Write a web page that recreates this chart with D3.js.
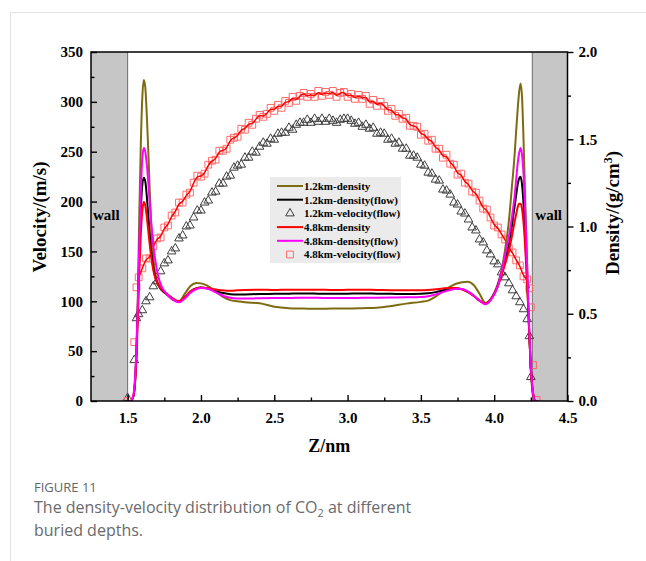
<!DOCTYPE html>
<html>
<head>
<meta charset="utf-8">
<script src="https://cdn.jsdelivr.net/npm/d3@7"></script>
<style>
  body { margin: 0; background: #fff; }
  svg { display: block; }
  .serif { font-family: "Liberation Serif", "Times New Roman", serif; font-weight: bold; }
</style>
</head>
<body>
<figure style="margin:0"></figure>
<script>
// Z positions (nm) of the density profiles
const densZ = [
  1.50, 1.52, 1.54, 1.55, 1.56, 1.57, 1.58, 1.59, 1.60, 1.61,
  1.62, 1.63, 1.64, 1.65, 1.66, 1.68, 1.70, 1.72, 1.75, 1.78,
  1.81, 1.85, 1.89, 1.93, 1.97, 2.00, 2.04, 2.08, 2.12, 2.16,
  2.20, 2.25, 2.30, 2.40, 2.50, 2.60, 2.70, 2.80, 2.90, 3.00,
  3.10, 3.20, 3.30, 3.40, 3.50, 3.55, 3.60, 3.65, 3.70, 3.74,
  3.78, 3.82, 3.86, 3.90, 3.94, 3.98, 4.02, 4.05, 4.08, 4.10,
  4.12, 4.14, 4.15, 4.16, 4.17, 4.18, 4.19, 4.20, 4.21, 4.22,
  4.23, 4.24, 4.25, 4.26, 4.27, 4.28, 4.30
]

const den1200 = [
  0, 0, 0.03, 0.10, 0.28, 0.62, 1.10, 1.48, 1.74, 1.84,
  1.80, 1.65, 1.45, 1.22, 1.02, 0.78, 0.69, 0.655, 0.625, 0.60,
  0.58, 0.57, 0.615, 0.66, 0.676, 0.674, 0.662, 0.64, 0.615, 0.592,
  0.578, 0.572, 0.566, 0.56, 0.54, 0.532, 0.530, 0.528, 0.530, 0.530,
  0.532, 0.535, 0.545, 0.558, 0.568, 0.575, 0.598, 0.628, 0.655, 0.672,
  0.681, 0.684, 0.665, 0.615, 0.562, 0.59, 0.66, 0.75, 0.90, 1.03,
  1.22, 1.42, 1.55, 1.67, 1.77, 1.82, 1.74, 1.50, 1.20, 0.90,
  0.62, 0.36, 0.17, 0.06, 0.02, 0, 0
]

const flow1200 = [
  0, 0, 0.03, 0.11, 0.28, 0.55, 0.86, 1.10, 1.24, 1.28,
  1.26, 1.18, 1.07, 0.96, 0.86, 0.74, 0.68, 0.648, 0.622, 0.603,
  0.585, 0.570, 0.594, 0.628, 0.646, 0.650, 0.646, 0.636, 0.625, 0.617,
  0.612, 0.610, 0.611, 0.613, 0.614, 0.615, 0.616, 0.615, 0.614, 0.615,
  0.616, 0.615, 0.614, 0.613, 0.614, 0.617, 0.624, 0.634, 0.642, 0.645,
  0.640, 0.626, 0.603, 0.575, 0.557, 0.585, 0.650, 0.73, 0.83, 0.90,
  1.00, 1.12, 1.18, 1.24, 1.275, 1.285, 1.24, 1.13, 0.97, 0.79,
  0.58, 0.37, 0.19, 0.08, 0.02, 0, 0
]

const den4800 = [
  0, 0, 0.03, 0.10, 0.25, 0.48, 0.75, 0.96, 1.09, 1.14,
  1.12, 1.06, 0.98, 0.90, 0.83, 0.73, 0.68, 0.652, 0.626, 0.606,
  0.587, 0.572, 0.595, 0.628, 0.645, 0.650, 0.648, 0.642, 0.636, 0.633,
  0.632, 0.634, 0.636, 0.638, 0.636, 0.638, 0.637, 0.638, 0.636, 0.637,
  0.638, 0.636, 0.635, 0.634, 0.635, 0.636, 0.640, 0.645, 0.648, 0.648,
  0.640, 0.625, 0.602, 0.575, 0.558, 0.585, 0.648, 0.72, 0.80, 0.86,
  0.94, 1.03, 1.07, 1.11, 1.13, 1.13, 1.10, 1.02, 0.90, 0.75,
  0.57, 0.37, 0.19, 0.08, 0.02, 0, 0
]

const flow4800 = [
  0, 0, 0.04, 0.13, 0.30, 0.58, 0.92, 1.20, 1.39, 1.45,
  1.43, 1.36, 1.26, 1.14, 1.03, 0.86, 0.75, 0.68, 0.63, 0.60,
  0.58, 0.566, 0.588, 0.622, 0.642, 0.648, 0.645, 0.632, 0.615, 0.600,
  0.592, 0.588, 0.587, 0.589, 0.590, 0.590, 0.592, 0.591, 0.590, 0.590,
  0.591, 0.592, 0.593, 0.594, 0.596, 0.600, 0.610, 0.624, 0.636, 0.643,
  0.642, 0.628, 0.605, 0.575, 0.555, 0.583, 0.648, 0.74, 0.86, 0.94,
  1.05, 1.18, 1.27, 1.36, 1.42, 1.45, 1.41, 1.30, 1.12, 0.90,
  0.65, 0.40, 0.20, 0.08, 0.02, 0, 0
]

// Z positions (nm) of the velocity samples
const velZ = [
  1.50, 1.545, 1.56,
  1.575, 1.600, 1.625, 1.650, 1.675, 1.700, 1.725, 1.750, 1.775, 1.800,
  1.825, 1.850, 1.875, 1.900, 1.925, 1.950, 1.975, 2.000, 2.025, 2.050,
  2.075, 2.100, 2.125, 2.150, 2.175, 2.200, 2.225, 2.250, 2.275, 2.300,
  2.325, 2.350, 2.375, 2.400, 2.425, 2.450, 2.475, 2.500, 2.525, 2.550,
  2.575, 2.600, 2.625, 2.650, 2.675, 2.700, 2.725, 2.750, 2.775, 2.800,
  2.825, 2.850, 2.875, 2.900, 2.925, 2.950, 2.975, 3.000, 3.025, 3.050,
  3.075, 3.100, 3.125, 3.150, 3.175, 3.200, 3.225, 3.250, 3.275, 3.300,
  3.325, 3.350, 3.375, 3.400, 3.425, 3.450, 3.475, 3.500, 3.525, 3.550,
  3.575, 3.600, 3.625, 3.650, 3.675, 3.700, 3.725, 3.750, 3.775, 3.800,
  3.825, 3.850, 3.875, 3.900, 3.925, 3.950, 3.975, 4.000, 4.025, 4.050,
  4.075, 4.100, 4.125, 4.150, 4.175, 4.200, 4.225,
  4.24, 4.25, 4.265, 4.29
]

const vel1200 = [
  3, 41, 83,
  87, 91, 100, 104, 115, 120, 130, 138, 141, 150,
  153, 163, 166, 175, 176, 184, 191, 191, 199, 201,
  209, 210, 218, 218, 225, 226, 234, 236, 237, 244,
  244, 250, 249, 255, 259, 258, 263, 262, 268, 269,
  269, 274, 272, 277, 279, 279, 282, 279, 283, 280,
  283, 280, 283, 281, 279, 282, 283, 283, 281, 278,
  279, 275, 277, 273, 274, 268, 269, 268, 262, 263,
  258, 259, 253, 253, 246, 246, 244, 237, 236, 229,
  228, 222, 221, 212, 211, 207, 199, 197, 190, 188,
  182, 174, 171, 162, 159, 151, 147, 140, 137, 129,
  124, 118, 111, 105, 99, 92, 82,
  65, 24, null, null
]

const vel4800 = [
  0, 59, 114,
  124, 133, 143, 143, 155, 163, 164, 174, 176, 186,
  189, 199, 199, 207, 209, 219, 226, 225, 228, 237,
  241, 242, 251, 251, 253, 262, 264, 265, 273, 272,
  279, 277, 283, 287, 285, 288, 294, 291, 297, 294,
  301, 299, 305, 301, 306, 309, 305, 308, 305, 311,
  306, 310, 307, 311, 305, 309, 310, 305, 308, 303,
  307, 303, 306, 298, 302, 296, 300, 296, 291, 293,
  286, 288, 283, 284, 276, 276, 275, 267, 268, 261,
  262, 253, 253, 244, 247, 238, 237, 227, 228, 219,
  218, 210, 209, 201, 193, 192, 184, 176, 174, 167,
  162, 153, 149, 141, 136, 125, 122,
  113, 94, 36, 1
]

const xTicks = [1.5, 2.0, 2.5, 3.0, 3.5, 4.0, 4.5]
const xMinor = [1.75, 2.25, 2.75, 3.25, 3.75, 4.25]
const velTicks = [0, 50, 100, 150, 200, 250, 300, 350]
const velMinor = [25, 75, 125, 175, 225, 275, 325]
const denTicks = [0, 0.5, 1.0, 1.5, 2.0]
const denMinor = [0.25, 0.75, 1.25, 1.75]
const walls = [[1.25, 1.5], [4.26, 4.5]]

const width = 646
const height = 561
const plot = { left: 91, right: 567.5, top: 52, bottom: 401 }

const x = d3.scaleLinear().domain([1.25, 4.5]).range([plot.left, plot.right])
const yVel = d3.scaleLinear().domain([0, 350]).range([plot.bottom, plot.top])
const yDen = d3.scaleLinear().domain([0, 2]).range([plot.bottom, plot.top])

const svg = d3.select('figure').append('svg')
  .attr('width', width)
  .attr('height', height)

// page frame lines
svg.append('line').attr('x1', 10).attr('x2', width).attr('y1', 12.5).attr('y2', 12.5)
  .attr('stroke', '#e2e2e2')
svg.append('line').attr('x1', 10.5).attr('x2', 10.5).attr('y1', 12).attr('y2', height)
  .attr('stroke', '#e2e2e2')

svg.append('clipPath').attr('id', 'clip')
  .append('rect')
  .attr('x', plot.left).attr('y', plot.top)
  .attr('width', plot.right - plot.left).attr('height', plot.bottom - plot.top)

// walls
svg.append('g')
  .selectAll('rect')
  .data(walls)
  .join('rect')
  .attr('x', d => x(d[0]))
  .attr('y', plot.top)
  .attr('width', d => x(d[1]) - x(d[0]))
  .attr('height', plot.bottom - plot.top)
  .attr('fill', '#c6c6c6')

svg.append('g')
  .selectAll('line')
  .data([walls[0][1], walls[1][0]])
  .join('line')
  .attr('x1', d => x(d)).attr('x2', d => x(d))
  .attr('y1', plot.top).attr('y2', plot.bottom)
  .attr('stroke', '#6b6b6b')
  .attr('stroke-width', 1)

svg.append('text').attr('class', 'serif')
  .attr('x', x(1.25) + 2).attr('y', 220)
  .attr('font-size', 15)
  .text('wall')
svg.append('text').attr('class', 'serif')
  .attr('x', x(4.26) + 3).attr('y', 220)
  .attr('font-size', 15)
  .text('wall')

const plotArea = svg.append('g').attr('clip-path', 'url(#clip)')

const velPts = series => velZ.map((z, i) => ({ z, v: series[i] })).filter(d => d.v !== null)
const densPts = series => densZ.map((z, i) => ({ z, v: series[i] }))

// velocity markers
plotArea.append('g')
  .selectAll('path')
  .data(velPts(vel1200))
  .join('path')
  .attr('transform', d => `translate(${x(d.z)},${yVel(d.v)})`)
  .attr('d', d3.symbol(d3.symbolTriangle, 32))
  .attr('fill', 'none')
  .attr('stroke', '#3c3c3c')
  .attr('stroke-width', 1)

plotArea.append('g')
  .selectAll('path')
  .data(velPts(vel4800))
  .join('path')
  .attr('transform', d => `translate(${x(d.z)},${yVel(d.v)})`)
  .attr('d', d3.symbol(d3.symbolSquare, 46))
  .attr('fill', 'none')
  .attr('stroke', '#ff6a6a')
  .attr('stroke-width', 1)

// fit line through the 4.8 km velocity
const velLine = d3.line()
  .x(d => x(d.z))
  .y(d => yVel(d.v))
  .curve(d3.curveBasis)

plotArea.append('path')
  .datum(velPts(vel4800).filter(d => d.z > 1.565 && d.z < 4.245))
  .attr('d', velLine)
  .attr('fill', 'none')
  .attr('stroke', '#ff0000')
  .attr('stroke-width', 1.5)

// density profiles
const denLine = d3.line()
  .x(d => x(d.z))
  .y(d => yDen(d.v))
  .curve(d3.curveMonotoneX)

const densSeries = [
  { name: '1.2km-density', values: den1200, color: '#7d6b12' },
  { name: '1.2km-density(flow)', values: flow1200, color: '#000000' },
  { name: '4.8km-density', values: den4800, color: '#ff0000' },
  { name: '4.8km-density(flow)', values: flow4800, color: '#ff00ff' }
]

plotArea.append('g')
  .selectAll('path')
  .data(densSeries)
  .join('path')
  .attr('d', d => denLine(densPts(d.values)))
  .attr('fill', 'none')
  .attr('stroke', d => d.color)
  .attr('stroke-width', 2)

// frame
svg.append('rect')
  .attr('x', plot.left).attr('y', plot.top)
  .attr('width', plot.right - plot.left).attr('height', plot.bottom - plot.top)
  .attr('fill', 'none')
  .attr('stroke', '#000')
  .attr('stroke-width', 1.5)

// axes
const styleAxis = g => {
  g.select('.domain').remove()
  g.selectAll('line').attr('stroke', '#000').attr('stroke-width', 1.4)
  g.selectAll('text')
    .attr('class', 'serif')
    .attr('font-size', 15)
    .attr('fill', '#000')
}

svg.append('g')
  .attr('transform', `translate(0,${plot.bottom})`)
  .call(d3.axisBottom(x).tickValues(xTicks).tickFormat(d3.format('.1f')).tickSize(-6).tickPadding(11))
  .call(styleAxis)
svg.append('g')
  .attr('transform', `translate(0,${plot.bottom})`)
  .call(d3.axisBottom(x).tickValues(xMinor).tickFormat('').tickSize(-3.5))
  .call(styleAxis)

svg.append('g')
  .attr('transform', `translate(${plot.left},0)`)
  .call(d3.axisLeft(yVel).tickValues(velTicks).tickSize(-6).tickPadding(8))
  .call(styleAxis)
svg.append('g')
  .attr('transform', `translate(${plot.left},0)`)
  .call(d3.axisLeft(yVel).tickValues(velMinor).tickFormat('').tickSize(-3.5))
  .call(styleAxis)

svg.append('g')
  .attr('transform', `translate(${plot.right},0)`)
  .call(d3.axisRight(yDen).tickValues(denTicks).tickFormat(d3.format('.1f')).tickSize(6).tickPadding(5))
  .call(styleAxis)
svg.append('g')
  .attr('transform', `translate(${plot.right},0)`)
  .call(d3.axisRight(yDen).tickValues(denMinor).tickFormat('').tickSize(3.5))
  .call(styleAxis)

// axis titles
svg.append('text').attr('class', 'serif')
  .attr('x', (plot.left + plot.right) / 2).attr('y', 452)
  .attr('text-anchor', 'middle')
  .attr('font-size', 18)
  .text('Z/nm')

svg.append('text').attr('class', 'serif')
  .attr('transform', 'translate(46,217) rotate(-90)')
  .attr('text-anchor', 'middle')
  .attr('font-size', 19)
  .text('Velocity/(m/s)')

const denTitle = svg.append('text').attr('class', 'serif')
  .attr('transform', 'translate(619,213) rotate(-90)')
  .attr('text-anchor', 'middle')
  .attr('font-size', 19)
denTitle.append('tspan').text('Density/(g/cm')
denTitle.append('tspan').attr('dy', -7).attr('font-size', 12).text('3')
denTitle.append('tspan').attr('dy', 7).text(')')

// legend
const legendItems = [
  { name: '1.2km-density', kind: 'line', color: '#7d6b12' },
  { name: '1.2km-density(flow)', kind: 'line', color: '#000000' },
  { name: '1.2km-velocity(flow)', kind: 'tri', color: '#3c3c3c' },
  { name: '4.8km-density', kind: 'line', color: '#ff0000' },
  { name: '4.8km-density(flow)', kind: 'line', color: '#ff00ff' },
  { name: '4.8km-velocity(flow)', kind: 'sq', color: '#ff6a6a' }
]

const legend = svg.append('g').attr('transform', 'translate(270,177)')
legend.append('rect')
  .attr('width', 131).attr('height', 86)
  .attr('fill', '#ebebeb')

const row = legend.selectAll('g')
  .data(legendItems)
  .join('g')
  .attr('transform', (d, i) => `translate(0,${9 + i * 13.7})`)

row.filter(d => d.kind === 'line').append('line')
  .attr('x1', 7).attr('x2', 33)
  .attr('stroke', d => d.color)
  .attr('stroke-width', 2)

row.filter(d => d.kind !== 'line').append('path')
  .attr('transform', 'translate(20,0)')
  .attr('d', d => d3.symbol(d.kind === 'tri' ? d3.symbolTriangle : d3.symbolSquare, d.kind === 'tri' ? 32 : 46)())
  .attr('fill', 'none')
  .attr('stroke', d => d.color)
  .attr('stroke-width', 1)

row.append('text').attr('class', 'serif')
  .attr('x', 34).attr('dy', '0.35em')
  .attr('font-size', 11)
  .text(d => d.name)

// caption
svg.append('text')
  .attr('x', 34).attr('y', 492)
  .attr('font-family', '"Open Sans", sans-serif')
  .attr('font-size', 13)
  .attr('fill', '#666')
  .text('FIGURE 11')

const cap1 = svg.append('text')
  .attr('x', 34).attr('y', 513)
  .attr('font-family', '"Open Sans", sans-serif')
  .attr('font-size', 16)
  .attr('fill', '#6a6a6a')
cap1.append('tspan').text('The density-velocity distribution of CO')
cap1.append('tspan').attr('dy', 4).attr('font-size', 11).text('2')
cap1.append('tspan').attr('dy', -4).text(' at different')

svg.append('text')
  .attr('x', 34).attr('y', 536)
  .attr('font-family', '"Open Sans", sans-serif')
  .attr('font-size', 16)
  .attr('fill', '#6a6a6a')
  .text('buried depths.')
</script>
</body>
</html>
